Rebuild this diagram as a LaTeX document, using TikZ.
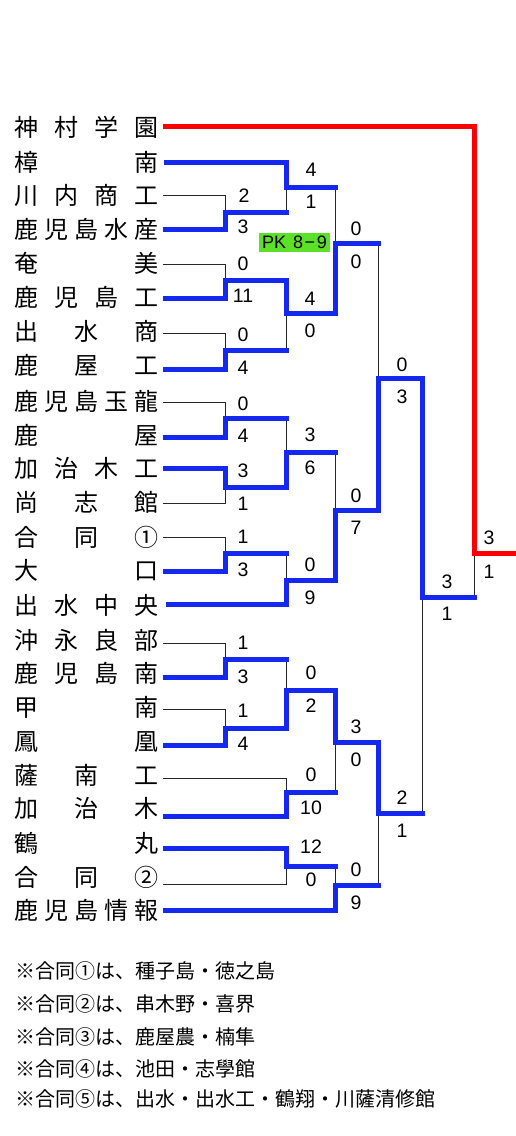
\documentclass[tikz,border=0pt]{standalone}
\usepackage{fontspec}
\setmainfont{Liberation Sans}
\newfontfamily\jp{Noto Sans CJK JP}
\definecolor{bblue}{RGB}{20,40,240}
\definecolor{pkgreen}{RGB}{90,225,40}
\tikzset{
  win/.style={draw=bblue, line width=5pt, line cap=rect, line join=miter},
  champ/.style={draw=red, line width=5pt, line cap=rect, line join=miter},
  lose/.style={draw=black!85, line width=0.9pt},
  team/.style={anchor=west, inner sep=0pt, font=\jp\fontsize{24}{24}\selectfont},
  score/.style={inner sep=0pt, font=\fontsize{19.5}{19.5}\selectfont},
  note/.style={anchor=west, inner sep=0pt, font=\jp\fontsize{20}{20}\selectfont},
  pk/.style={fill=pkgreen, inner sep=0pt, minimum width=71pt, minimum height=19pt, font=\fontsize{18}{18}\selectfont}
}
\newcommand{\tname}[1]{\makebox[144pt][s]{#1}}
\begin{document}
\begin{tikzpicture}[x=1pt,y=-1pt]
\path[use as bounding box, fill=white] (0,0) rectangle (516,1136);
% team names
\node[team] (t1) at (14,127) {\tname{神\hfill 村\hfill 学\hfill 園}};
\node[team] (t2) at (14,162) {\tname{樟\hfill 南}};
\node[team] (t3) at (14,195) {\tname{川\hfill 内\hfill 商\hfill 工}};
\node[team] (t4) at (14,229) {\tname{鹿\hfill 児\hfill 島\hfill 水\hfill 産}};
\node[team] (t5) at (14,263) {\tname{奄\hfill 美}};
\node[team] (t6) at (14,297) {\tname{鹿\hfill 児\hfill 島\hfill 工}};
\node[team] (t7) at (14,331) {\tname{出\hfill 水\hfill 商}};
\node[team] (t8) at (14,365) {\tname{鹿\hfill 屋\hfill 工}};
\node[team] (t9) at (14,401) {\tname{鹿\hfill 児\hfill 島\hfill 玉\hfill 龍}};
\node[team] (t10) at (14,435) {\tname{鹿\hfill 屋}};
\node[team] (t11) at (14,468) {\tname{加\hfill 治\hfill 木\hfill 工}};
\node[team] (t12) at (14,502) {\tname{尚\hfill 志\hfill 館}};
\node[team] (t13) at (14,537) {\tname{合\hfill 同\hfill ①}};
\node[team] (t14) at (14,570) {\tname{大\hfill 口}};
\node[team] (t15) at (14,605) {\tname{出\hfill 水\hfill 中\hfill 央}};
\node[team] (t16) at (14,640) {\tname{沖\hfill 永\hfill 良\hfill 部}};
\node[team] (t17) at (14,673) {\tname{鹿\hfill 児\hfill 島\hfill 南}};
\node[team] (t18) at (14,707) {\tname{甲\hfill 南}};
\node[team] (t19) at (14,742) {\tname{鳳\hfill 凰}};
\node[team] (t20) at (14,775) {\tname{薩\hfill 南\hfill 工}};
\node[team] (t21) at (14,808) {\tname{加\hfill 治\hfill 木}};
\node[team] (t22) at (14,843) {\tname{鶴\hfill 丸}};
\node[team] (t23) at (14,877) {\tname{合\hfill 同\hfill ②}};
\node[team] (t24) at (14,910) {\tname{鹿\hfill 児\hfill 島\hfill 情\hfill 報}};
% line starts
\coordinate (s1) at (165.5,126);
\coordinate (s2) at (166.5,162);
\coordinate (s3) at (163,195);
\coordinate (s4) at (165.5,229);
\coordinate (s5) at (163,264);
\coordinate (s6) at (165.5,298);
\coordinate (s7) at (163,333);
\coordinate (s8) at (165.5,369);
\coordinate (s9) at (163,402);
\coordinate (s10) at (165.5,437);
\coordinate (s11) at (165.5,468);
\coordinate (s12) at (163,503);
\coordinate (s13) at (163,537);
\coordinate (s14) at (165.5,571);
\coordinate (s15) at (168,604);
\coordinate (s16) at (163,643);
\coordinate (s17) at (165.5,677);
\coordinate (s18) at (163,709);
\coordinate (s19) at (165.5,745);
\coordinate (s20) at (163,778);
\coordinate (s21) at (165.5,816);
\coordinate (s22) at (165.5,848);
\coordinate (s23) at (163,884);
\coordinate (s24) at (165.5,910);
% matches
\coordinate (A1) at (225,212);
\coordinate (A2) at (286,187);
\coordinate (A3) at (225,280);
\coordinate (A4) at (225,350);
\coordinate (A5) at (286,313);
\coordinate (A6) at (335,243);
\coordinate (A7) at (225,418);
\coordinate (A8) at (225,487);
\coordinate (A9) at (286,452);
\coordinate (A10) at (225,553);
\coordinate (A11) at (286,580);
\coordinate (A12) at (335,510);
\coordinate (A13) at (378,378);
\coordinate (B1) at (225,659);
\coordinate (B2) at (225,728);
\coordinate (B3) at (286,690);
\coordinate (B4) at (286,792);
\coordinate (B5) at (335,742);
\coordinate (B6) at (286,866);
\coordinate (B7) at (335,885);
\coordinate (B8) at (378,813);
\coordinate (SF) at (422,597);
\coordinate (F) at (474,553);
\coordinate (E) at (520,553);
% thin loser lines
\draw[lose] (s3) -| (A1);
\draw[lose] (s5) -| (A3);
\draw[lose] (s7) -| (A4);
\draw[lose] (s9) -| (A7);
\draw[lose] (s12) -| (A8);
\draw[lose] (s13) -| (A10);
\draw[lose] (s16) -| (B1);
\draw[lose] (s18) -| (B2);
\draw[lose] (s20) -| (B4);
\draw[lose] (s23) -| (B6);
\draw[lose] (A1 -| A2) -- (A2);
\draw[lose] (A2 -| A6) -- (A6);
\draw[lose] (A4 -| A5) -- (A5);
\draw[lose] (A6 -| A13) -- (A13);
\draw[lose] (A7 -| A9) -- (A9);
\draw[lose] (A9 -| A12) -- (A12);
\draw[lose] (A10 -| A11) -- (A11);
\draw[lose] (B1 -| B3) -- (B3);
\draw[lose] (B4 -| B5) -- (B5);
\draw[lose] (B6 -| B7) -- (B7);
\draw[lose] (B7 -| B8) -- (B8);
\draw[lose] (B8 -| SF) -- (SF);
\draw[lose] (SF -| F) -- (F);
% winner paths
\draw[win] (s2) -| (A2) -- (A2 -| A6);
\draw[win] (s4) -| (A1) -- (A1 -| A2);
\draw[win] (s6) -| (A3) -| (A5) -| (A6) -- (A6 -| A13);
\draw[win] (s8) -| (A4) -- (A4 -| A5);
\draw[win] (s10) -| (A7) -- (A7 -| A9);
\draw[win] (s11) -| (A8) -| (A9) -- (A9 -| A12);
\draw[win] (s14) -| (A10) -- (A10 -| A11);
\draw[win] (s15) -| (A11) -| (A12) -| (A13) -| (SF) -- (SF -| F);
\draw[win] (s17) -| (B1) -- (B1 -| B3);
\draw[win] (s19) -| (B2) -| (B3) -| (B5) -| (B8) -- (B8 -| SF);
\draw[win] (s21) -| (B4) -- (B4 -| B5);
\draw[win] (s22) -| (B6) -- (B6 -| B7);
\draw[win] (s24) -| (B7) -- (B7 -| B8);
\draw[champ] (s1) -| (F) -- (E);
% scores
\node[score] (a1u) at (244,196) {2};
\node[score] (a1d) at (243,227) {3};
\node[score] (a2u) at (311,170) {4};
\node[score] (a2d) at (311,202) {1};
\node[score] (a3u) at (243,264) {0};
\node[score] (a3d) at (243,296) {11};
\node[score] (a5u) at (310,299) {4};
\node[score] (a5d) at (310,331) {0};
\node[score] (a4u) at (243,335) {0};
\node[score] (a4d) at (243,368) {4};
\node[score] (a6u) at (356,229) {0};
\node[score] (a6d) at (356,262) {0};
\node[score] (a7u) at (243,404) {0};
\node[score] (a7d) at (243,436) {4};
\node[score] (a8u) at (243,471) {3};
\node[score] (a8d) at (243,504) {1};
\node[score] (a9u) at (310,435) {3};
\node[score] (a9d) at (310,468) {6};
\node[score] (a10u) at (243,537) {1};
\node[score] (a10d) at (243,570) {3};
\node[score] (a11u) at (310,565) {0};
\node[score] (a11d) at (310,598) {9};
\node[score] (a12u) at (356,496) {0};
\node[score] (a12d) at (356,528) {7};
\node[score] (a13u) at (402,365) {0};
\node[score] (a13d) at (402,397) {3};
\node[score] (sfu) at (447,582) {3};
\node[score] (sfd) at (447,614) {1};
\node[score] (fu) at (489,538) {3};
\node[score] (fd) at (489,572) {1};
\node[score] (b1u) at (243,643) {1};
\node[score] (b1d) at (243,677) {3};
\node[score] (b2u) at (243,711) {1};
\node[score] (b2d) at (243,744) {4};
\node[score] (b3u) at (311,673) {0};
\node[score] (b3d) at (311,706) {2};
\node[score] (b4u) at (311,775) {0};
\node[score] (b4d) at (311,808) {10};
\node[score] (b5u) at (356,727) {3};
\node[score] (b5d) at (356,760) {0};
\node[score] (b6u) at (311,847) {12};
\node[score] (b6d) at (311,880) {0};
\node[score] (b7u) at (356,870) {0};
\node[score] (b7d) at (356,903) {9};
\node[score] (b8u) at (402,798) {2};
\node[score] (b8d) at (402,831) {1};
% PK label
\node[pk] (pk) at (294.5,242.5) {PK\hspace{7pt}8\hspace{1.5pt}−\hspace{1.5pt}9};
% notes
\node[note] (n1) at (15,971) {※合同①は、種子島・徳之島};
\node[note] (n2) at (15,1004) {※合同②は、串木野・喜界};
\node[note] (n3) at (15,1037) {※合同③は、鹿屋農・楠隼};
\node[note] (n4) at (15,1069) {※合同④は、池田・志學館};
\node[note] (n5) at (15,1099) {※合同⑤は、出水・出水工・鶴翔・川薩清修館};
\end{tikzpicture}
\end{document}
